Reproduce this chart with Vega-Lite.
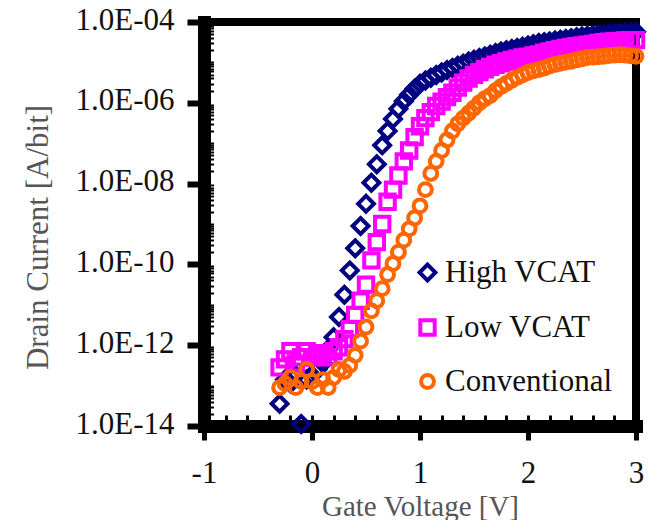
{
  "$schema": "https://vega.github.io/schema/vega-lite/v6.json",
  "autosize": {"type": "none"},
  "width": 432,
  "height": 404,
  "padding": {"left": 204, "top": 22, "right": 15, "bottom": 94},
  "background": "white",
  "config": {
    "view": {"stroke": "black", "strokeWidth": 8},
    "axis": {"grid": false, "labelFont": "Liberation Serif", "titleFont": "Liberation Serif", "titleFontWeight": "normal"},
    "legend": {"labelFont": "Liberation Serif"}
  },
  "data": {"values": [
    {"vg":-0.3,"id":3.55e-14,"device":"High VCAT"},{"vg":-0.25,"id":1.41e-13,"device":"High VCAT"},{"vg":-0.2,"id":1.12e-13,"device":"High VCAT"},{"vg":-0.15,"id":1.78e-13,"device":"High VCAT"},{"vg":-0.1,"id":1.12e-14,"device":"High VCAT"},{"vg":-0.05,"id":1.41e-13,"device":"High VCAT"},{"vg":0,"id":1.78e-13,"device":"High VCAT"},
    {"vg":0.05,"id":2.51e-13,"device":"High VCAT"},{"vg":0.1,"id":3.55e-13,"device":"High VCAT"},{"vg":0.15,"id":7.94e-13,"device":"High VCAT"},{"vg":0.2,"id":1.58e-12,"device":"High VCAT"},{"vg":0.25,"id":5.01e-12,"device":"High VCAT"},{"vg":0.3,"id":1.78e-11,"device":"High VCAT"},{"vg":0.35,"id":7.08e-11,"device":"High VCAT"},{"vg":0.4,"id":2.51e-10,"device":"High VCAT"},{"vg":0.45,"id":8.91e-10,"device":"High VCAT"},{"vg":0.5,"id":3.16e-9,"device":"High VCAT"},
    {"vg":0.55,"id":1.05e-8,"device":"High VCAT"},{"vg":0.6,"id":3.02e-8,"device":"High VCAT"},{"vg":0.65,"id":8.91e-8,"device":"High VCAT"},{"vg":0.7,"id":2.00e-7,"device":"High VCAT"},{"vg":0.75,"id":3.98e-7,"device":"High VCAT"},{"vg":0.8,"id":7.08e-7,"device":"High VCAT"},{"vg":0.85,"id":1.10e-6,"device":"High VCAT"},{"vg":0.9,"id":1.58e-6,"device":"High VCAT"},{"vg":0.95,"id":2.24e-6,"device":"High VCAT"},{"vg":1,"id":2.95e-6,"device":"High VCAT"},
    {"vg":1.05,"id":3.55e-6,"device":"High VCAT"},{"vg":1.1,"id":4.17e-6,"device":"High VCAT"},{"vg":1.15,"id":4.90e-6,"device":"High VCAT"},{"vg":1.2,"id":5.62e-6,"device":"High VCAT"},{"vg":1.25,"id":6.46e-6,"device":"High VCAT"},{"vg":1.3,"id":7.24e-6,"device":"High VCAT"},{"vg":1.35,"id":8.32e-6,"device":"High VCAT"},{"vg":1.4,"id":9.33e-6,"device":"High VCAT"},{"vg":1.45,"id":1.05e-5,"device":"High VCAT"},{"vg":1.5,"id":1.17e-5,"device":"High VCAT"},
    {"vg":1.55,"id":1.29e-5,"device":"High VCAT"},{"vg":1.6,"id":1.41e-5,"device":"High VCAT"},{"vg":1.65,"id":1.55e-5,"device":"High VCAT"},{"vg":1.7,"id":1.70e-5,"device":"High VCAT"},{"vg":1.75,"id":1.86e-5,"device":"High VCAT"},{"vg":1.8,"id":2.00e-5,"device":"High VCAT"},{"vg":1.85,"id":2.14e-5,"device":"High VCAT"},{"vg":1.9,"id":2.29e-5,"device":"High VCAT"},{"vg":1.95,"id":2.45e-5,"device":"High VCAT"},{"vg":2,"id":2.63e-5,"device":"High VCAT"},
    {"vg":2.05,"id":2.82e-5,"device":"High VCAT"},{"vg":2.1,"id":3.02e-5,"device":"High VCAT"},{"vg":2.15,"id":3.16e-5,"device":"High VCAT"},{"vg":2.2,"id":3.31e-5,"device":"High VCAT"},{"vg":2.25,"id":3.47e-5,"device":"High VCAT"},{"vg":2.3,"id":3.63e-5,"device":"High VCAT"},{"vg":2.35,"id":3.80e-5,"device":"High VCAT"},{"vg":2.4,"id":3.98e-5,"device":"High VCAT"},{"vg":2.45,"id":4.17e-5,"device":"High VCAT"},{"vg":2.5,"id":4.37e-5,"device":"High VCAT"},
    {"vg":2.55,"id":4.57e-5,"device":"High VCAT"},{"vg":2.6,"id":4.68e-5,"device":"High VCAT"},{"vg":2.65,"id":4.90e-5,"device":"High VCAT"},{"vg":2.7,"id":5.01e-5,"device":"High VCAT"},{"vg":2.75,"id":5.13e-5,"device":"High VCAT"},{"vg":2.8,"id":5.25e-5,"device":"High VCAT"},{"vg":2.85,"id":5.37e-5,"device":"High VCAT"},{"vg":2.9,"id":5.50e-5,"device":"High VCAT"},{"vg":2.95,"id":5.62e-5,"device":"High VCAT"},{"vg":3,"id":5.75e-5,"device":"High VCAT"},

    {"vg":-0.3,"id":2.82e-13,"device":"Low VCAT"},{"vg":-0.25,"id":4.47e-13,"device":"Low VCAT"},{"vg":-0.2,"id":7.08e-13,"device":"Low VCAT"},{"vg":-0.15,"id":3.55e-13,"device":"Low VCAT"},{"vg":-0.1,"id":5.01e-13,"device":"Low VCAT"},{"vg":-0.05,"id":7.08e-13,"device":"Low VCAT"},{"vg":0,"id":5.01e-13,"device":"Low VCAT"},
    {"vg":0.05,"id":5.62e-13,"device":"Low VCAT"},{"vg":0.1,"id":6.31e-13,"device":"Low VCAT"},{"vg":0.15,"id":5.01e-13,"device":"Low VCAT"},{"vg":0.2,"id":7.08e-13,"device":"Low VCAT"},{"vg":0.25,"id":8.91e-13,"device":"Low VCAT"},{"vg":0.3,"id":1.41e-12,"device":"Low VCAT"},{"vg":0.35,"id":2.51e-12,"device":"Low VCAT"},{"vg":0.4,"id":5.62e-12,"device":"Low VCAT"},{"vg":0.45,"id":1.26e-11,"device":"Low VCAT"},{"vg":0.5,"id":3.16e-11,"device":"Low VCAT"},
    {"vg":0.55,"id":1.26e-10,"device":"Low VCAT"},{"vg":0.6,"id":3.55e-10,"device":"Low VCAT"},{"vg":0.65,"id":1.00e-9,"device":"Low VCAT"},{"vg":0.7,"id":3.55e-9,"device":"Low VCAT"},{"vg":0.75,"id":7.08e-9,"device":"Low VCAT"},{"vg":0.8,"id":1.58e-8,"device":"Low VCAT"},{"vg":0.85,"id":3.55e-8,"device":"Low VCAT"},{"vg":0.9,"id":6.61e-8,"device":"Low VCAT"},{"vg":0.95,"id":1.41e-7,"device":"Low VCAT"},{"vg":1,"id":2.63e-7,"device":"Low VCAT"},
    {"vg":1.05,"id":4.17e-7,"device":"Low VCAT"},{"vg":1.1,"id":5.89e-7,"device":"Low VCAT"},{"vg":1.15,"id":8.32e-7,"device":"Low VCAT"},{"vg":1.2,"id":1.07e-6,"device":"Low VCAT"},{"vg":1.25,"id":1.38e-6,"device":"Low VCAT"},{"vg":1.3,"id":1.78e-6,"device":"Low VCAT"},{"vg":1.35,"id":2.40e-6,"device":"Low VCAT"},{"vg":1.4,"id":3.16e-6,"device":"Low VCAT"},{"vg":1.45,"id":3.98e-6,"device":"Low VCAT"},{"vg":1.5,"id":4.90e-6,"device":"Low VCAT"},
    {"vg":1.55,"id":5.75e-6,"device":"Low VCAT"},{"vg":1.6,"id":6.76e-6,"device":"Low VCAT"},{"vg":1.65,"id":7.76e-6,"device":"Low VCAT"},{"vg":1.7,"id":8.71e-6,"device":"Low VCAT"},{"vg":1.75,"id":9.55e-6,"device":"Low VCAT"},{"vg":1.8,"id":1.05e-5,"device":"Low VCAT"},{"vg":1.85,"id":1.15e-5,"device":"Low VCAT"},{"vg":1.9,"id":1.23e-5,"device":"Low VCAT"},{"vg":1.95,"id":1.32e-5,"device":"Low VCAT"},{"vg":2,"id":1.38e-5,"device":"Low VCAT"},
    {"vg":2.05,"id":1.48e-5,"device":"Low VCAT"},{"vg":2.1,"id":1.58e-5,"device":"Low VCAT"},{"vg":2.15,"id":1.74e-5,"device":"Low VCAT"},{"vg":2.2,"id":1.86e-5,"device":"Low VCAT"},{"vg":2.25,"id":2.00e-5,"device":"Low VCAT"},{"vg":2.3,"id":2.14e-5,"device":"Low VCAT"},{"vg":2.35,"id":2.29e-5,"device":"Low VCAT"},{"vg":2.4,"id":2.40e-5,"device":"Low VCAT"},{"vg":2.45,"id":2.51e-5,"device":"Low VCAT"},{"vg":2.5,"id":2.63e-5,"device":"Low VCAT"},
    {"vg":2.55,"id":2.75e-5,"device":"Low VCAT"},{"vg":2.6,"id":2.88e-5,"device":"Low VCAT"},{"vg":2.65,"id":3.02e-5,"device":"Low VCAT"},{"vg":2.7,"id":3.16e-5,"device":"Low VCAT"},{"vg":2.75,"id":3.24e-5,"device":"Low VCAT"},{"vg":2.8,"id":3.31e-5,"device":"Low VCAT"},{"vg":2.85,"id":3.39e-5,"device":"Low VCAT"},{"vg":2.9,"id":3.47e-5,"device":"Low VCAT"},{"vg":2.95,"id":3.55e-5,"device":"Low VCAT"},{"vg":3,"id":3.55e-5,"device":"Low VCAT"},

    {"vg":-0.3,"id":8.91e-14,"device":"Conventional"},{"vg":-0.25,"id":1.12e-13,"device":"Conventional"},{"vg":-0.2,"id":1.58e-13,"device":"Conventional"},{"vg":-0.15,"id":8.91e-14,"device":"Conventional"},{"vg":-0.1,"id":1.26e-13,"device":"Conventional"},{"vg":-0.05,"id":2.51e-13,"device":"Conventional"},{"vg":0,"id":1.26e-13,"device":"Conventional"},
    {"vg":0.05,"id":8.91e-14,"device":"Conventional"},{"vg":0.1,"id":1.41e-13,"device":"Conventional"},{"vg":0.15,"id":8.91e-14,"device":"Conventional"},{"vg":0.2,"id":1.58e-13,"device":"Conventional"},{"vg":0.25,"id":2.51e-13,"device":"Conventional"},{"vg":0.3,"id":2.24e-13,"device":"Conventional"},{"vg":0.35,"id":3.16e-13,"device":"Conventional"},{"vg":0.4,"id":5.62e-13,"device":"Conventional"},{"vg":0.45,"id":1.26e-12,"device":"Conventional"},{"vg":0.5,"id":2.82e-12,"device":"Conventional"},
    {"vg":0.55,"id":7.08e-12,"device":"Conventional"},{"vg":0.6,"id":1.26e-11,"device":"Conventional"},{"vg":0.65,"id":2.51e-11,"device":"Conventional"},{"vg":0.7,"id":5.62e-11,"device":"Conventional"},{"vg":0.75,"id":1.05e-10,"device":"Conventional"},{"vg":0.8,"id":2.00e-10,"device":"Conventional"},{"vg":0.85,"id":3.98e-10,"device":"Conventional"},{"vg":0.9,"id":7.59e-10,"device":"Conventional"},{"vg":0.95,"id":1.41e-9,"device":"Conventional"},{"vg":1,"id":2.82e-9,"device":"Conventional"},
    {"vg":1.05,"id":7.08e-9,"device":"Conventional"},{"vg":1.1,"id":1.78e-8,"device":"Conventional"},{"vg":1.15,"id":3.55e-8,"device":"Conventional"},{"vg":1.2,"id":6.61e-8,"device":"Conventional"},{"vg":1.25,"id":1.20e-7,"device":"Conventional"},{"vg":1.3,"id":2.00e-7,"device":"Conventional"},{"vg":1.35,"id":3.02e-7,"device":"Conventional"},{"vg":1.4,"id":4.17e-7,"device":"Conventional"},{"vg":1.45,"id":5.50e-7,"device":"Conventional"},{"vg":1.5,"id":7.41e-7,"device":"Conventional"},
    {"vg":1.55,"id":1.00e-6,"device":"Conventional"},{"vg":1.6,"id":1.26e-6,"device":"Conventional"},{"vg":1.65,"id":1.51e-6,"device":"Conventional"},{"vg":1.7,"id":2.00e-6,"device":"Conventional"},{"vg":1.75,"id":2.51e-6,"device":"Conventional"},{"vg":1.8,"id":3.02e-6,"device":"Conventional"},{"vg":1.85,"id":3.63e-6,"device":"Conventional"},{"vg":1.9,"id":4.27e-6,"device":"Conventional"},{"vg":1.95,"id":4.90e-6,"device":"Conventional"},{"vg":2,"id":5.62e-6,"device":"Conventional"},
    {"vg":2.05,"id":6.17e-6,"device":"Conventional"},{"vg":2.1,"id":6.61e-6,"device":"Conventional"},{"vg":2.15,"id":7.24e-6,"device":"Conventional"},{"vg":2.2,"id":8.13e-6,"device":"Conventional"},{"vg":2.25,"id":8.91e-6,"device":"Conventional"},{"vg":2.3,"id":9.55e-6,"device":"Conventional"},{"vg":2.35,"id":1.02e-5,"device":"Conventional"},{"vg":2.4,"id":1.07e-5,"device":"Conventional"},{"vg":2.45,"id":1.15e-5,"device":"Conventional"},{"vg":2.5,"id":1.23e-5,"device":"Conventional"},
    {"vg":2.55,"id":1.32e-5,"device":"Conventional"},{"vg":2.6,"id":1.35e-5,"device":"Conventional"},{"vg":2.65,"id":1.38e-5,"device":"Conventional"},{"vg":2.7,"id":1.41e-5,"device":"Conventional"},{"vg":2.75,"id":1.48e-5,"device":"Conventional"},{"vg":2.8,"id":1.51e-5,"device":"Conventional"},{"vg":2.85,"id":1.55e-5,"device":"Conventional"},{"vg":2.9,"id":1.51e-5,"device":"Conventional"},{"vg":2.95,"id":1.45e-5,"device":"Conventional"},{"vg":3,"id":1.41e-5,"device":"Conventional"}
  ]},
  "resolve": {"axis": {"x": "independent", "y": "independent"}},
  "layer": [
    {
      "mark": {"type": "point", "opacity": 0},
      "encoding": {
        "x": {"field": "vg", "type": "quantitative", "scale": {"domain": [-1, 3], "nice": false, "zero": false},
          "axis": {"orient": "bottom", "values": [-0.8,-0.6,-0.4,-0.2,0,0.2,0.4,0.6,0.8,1,1.2,1.4,1.6,1.8,2,2.2,2.4,2.6,2.8], "tickSize": -11, "tickWidth": 3, "tickColor": "black", "domain": false, "labels": false, "title": null}},
        "y": {"field": "id", "type": "quantitative", "scale": {"type": "log", "domain": [1e-14, 1e-4], "nice": false},
          "axis": {"orient": "left", "values": [2e-14,3e-14,4e-14,5e-14,6e-14,7e-14,8e-14,9e-14,1e-13,2e-13,3e-13,4e-13,5e-13,6e-13,7e-13,8e-13,9e-13,2e-12,3e-12,4e-12,5e-12,6e-12,7e-12,8e-12,9e-12,1e-11,2e-11,3e-11,4e-11,5e-11,6e-11,7e-11,8e-11,9e-11,2e-10,3e-10,4e-10,5e-10,6e-10,7e-10,8e-10,9e-10,1e-9,2e-9,3e-9,4e-9,5e-9,6e-9,7e-9,8e-9,9e-9,2e-8,3e-8,4e-8,5e-8,6e-8,7e-8,8e-8,9e-8,1e-7,2e-7,3e-7,4e-7,5e-7,6e-7,7e-7,8e-7,9e-7,2e-6,3e-6,4e-6,5e-6,6e-6,7e-6,8e-6,9e-6,1e-5,2e-5,3e-5,4e-5,5e-5,6e-5,7e-5,8e-5,9e-5], "tickSize": -9.5, "tickWidth": 2, "tickColor": "black", "domain": false, "labels": false, "title": null}}
      }
    },
    {
      "mark": {"type": "point", "filled": false, "strokeWidth": 4, "opacity": 1},
      "encoding": {
        "x": {"field": "vg", "type": "quantitative", "scale": {"domain": [-1, 3], "nice": false, "zero": false},
          "axis": {"orient": "bottom", "title": "Gate Voltage [V]", "values": [-1, 0, 1, 2, 3], "labelExpr": "'' + datum.value",
            "domainColor": "black", "domainWidth": 13, "domainCap": "square", "tickColor": "black", "tickWidth": 5, "tickSize": 14,
            "labelFontSize": 31, "labelColor": "#111", "labelBaseline": "alphabetic", "labelPadding": 42, "labelFlush": false,
            "titleFontSize": 29, "titleColor": "#555", "titleBaseline": "alphabetic", "titleX": 216, "titleY": 89}},
        "y": {"field": "id", "type": "quantitative", "scale": {"type": "log", "domain": [1e-14, 1e-4], "nice": false},
          "axis": {"orient": "left", "title": "Drain Current [A/bit]", "values": [1e-14, 1e-12, 1e-10, 1e-8, 1e-6, 1e-4],
            "labelExpr": "'1.0E-' + (round(-log(datum.value)/LN10) < 10 ? '0' : '') + round(-log(datum.value)/LN10)",
            "domainColor": "black", "domainWidth": 13, "domainCap": "square", "tickColor": "black", "tickWidth": 6, "tickSize": 17,
            "labelFontSize": 31, "labelColor": "#111", "labelPadding": 13, "labelOffset": -2, "labelFlush": false,
            "titleFontSize": 31, "titleColor": "#555", "titleAngle": 270, "titleAlign": "center", "titleBaseline": "middle", "titleX": -166, "titleY": 215}},
        "color": {"field": "device", "type": "nominal", "sort": ["High VCAT", "Low VCAT", "Conventional"],
          "scale": {"domain": ["High VCAT", "Low VCAT", "Conventional"], "range": ["#000080", "#FF00FF", "#FF6600"]},
          "legend": {"orient": "none", "legendX": 208, "legendY": 235, "title": null, "labelFontSize": 31, "labelColor": "#111", "labelLimit": 0, "rowPadding": 22, "labelOffset": 2, "symbolStrokeWidth": 4, "padding": 0}},
        "shape": {"field": "device", "type": "nominal", "sort": ["High VCAT", "Low VCAT", "Conventional"],
          "scale": {"domain": ["High VCAT", "Low VCAT", "Conventional"], "range": ["diamond", "square", "circle"]}},
        "size": {"field": "device", "type": "nominal", "sort": ["High VCAT", "Low VCAT", "Conventional"],
          "scale": {"domain": ["High VCAT", "Low VCAT", "Conventional"], "range": [250, 165, 190]}}
      }
    }
  ]
}
